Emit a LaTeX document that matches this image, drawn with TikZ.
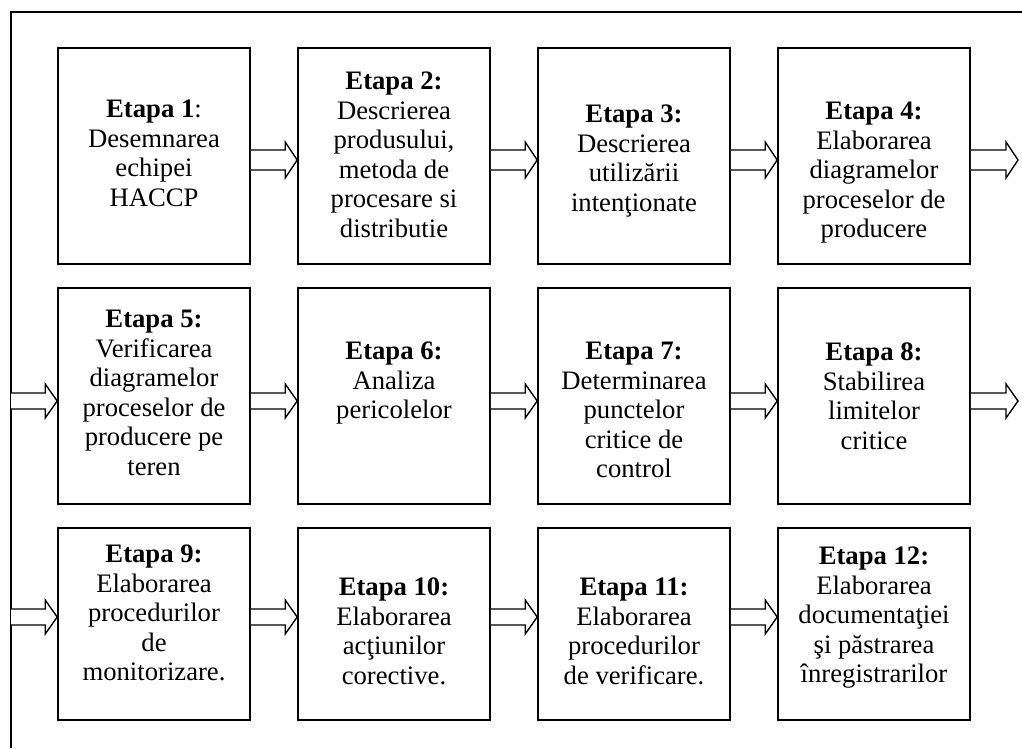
\documentclass[tikz,border=0pt]{standalone}
\usepackage{fontspec}
\setmainfont{Liberation Serif}
\usetikzlibrary{calc}
\tikzset{
  stepbox/.style={draw=black, line width=1.6pt, inner sep=0pt, minimum width=192pt},
  tallbox/.style={stepbox, minimum height=216pt},
  lowbox/.style={stepbox, minimum height=192pt},
  steptext/.style={anchor=north, inner sep=0pt, align=center,
    font=\fontsize{26.67}{29.5}\selectfont},
  frameline/.style={draw=black, line width=2.4pt},
  arrowline/.style={draw=black, line width=1.4pt, fill=white, line join=miter},
}
% #1 start, #2 end, #3 half shaft, #4 half head
\newcommand\blockarrow[4]{%
  \draw[arrowline] let \p1=(#1), \p2=(#2) in
    (\x1,{\y2+#3}) -- ({\x2-12pt},{\y2+#3}) -- ({\x2-12pt},{\y2+#4}) -- (\x2,\y2)
    -- ({\x2-12pt},{\y2-#4}) -- ({\x2-12pt},{\y2-#3}) -- (\x1,{\y2-#3});}
\begin{document}
\begin{tikzpicture}[x=1pt,y=-1pt]
\useasboundingbox (0,0) rectangle (1022,748);
% frame
\coordinate (f1) at (11,748);
\coordinate (f2) at (11,12);
\coordinate (f3) at (1022,12);
\draw[frameline] (f1) -- (f2) -- (f3);
% arrow rows
\coordinate (r1) at (0,160);
\coordinate (r2) at (0,401);
\coordinate (r3) at (0,617);
\coordinate (e1) at (1018,160);
\coordinate (e2) at (1018,401);
% boxes
\node[tallbox] (b1) at (154,156) {};
\node[tallbox] (b2) at (394,156) {};
\node[tallbox] (b3) at (634,156) {};
\node[tallbox] (b4) at (874,156) {};
\node[tallbox] (b5) at (154,396) {};
\node[tallbox] (b6) at (394,396) {};
\node[tallbox] (b7) at (634,396) {};
\node[tallbox] (b8) at (874,396) {};
\node[lowbox] (b9) at (154,624) {};
\node[lowbox] (b10) at (394,624) {};
\node[lowbox] (b11) at (634,624) {};
\node[lowbox] (b12) at (874,624) {};
% texts
\node[steptext] (t1) at (154,100) {\textbf{Etapa 1}:\\Desemnarea\\echipei\\HACCP};
\node[steptext] (t2) at (394,72) {\textbf{Etapa 2:}\\Descrierea\\produsului,\\metoda de\\procesare si\\distributie};
\node[steptext] (t3) at (634,105) {\textbf{Etapa 3:}\\Descrierea\\utilizării\\intenţionate};
\node[steptext] (t4) at (874,102) {\textbf{Etapa 4:}\\Elaborarea\\diagramelor\\proceselor de\\producere};
\node[steptext] (t5) at (154,310) {\textbf{Etapa 5:}\\Verificarea\\diagramelor\\proceselor de\\producere pe\\teren};
\node[steptext] (t6) at (394,342) {\textbf{Etapa 6:}\\Analiza\\pericolelor};
\node[steptext] (t7) at (634,342) {\textbf{Etapa 7:}\\Determinarea\\punctelor\\critice de\\control};
\node[steptext] (t8) at (874,343) {\textbf{Etapa 8:}\\Stabilirea\\limitelor\\critice};
\node[steptext] (t9) at (154,545) {\textbf{Etapa 9:}\\Elaborarea\\procedurilor\\de\\monitorizare.};
\node[steptext] (t10) at (394,578) {\textbf{Etapa 10:}\\Elaborarea\\acţiunilor\\corective.};
\node[steptext] (t11) at (634,578) {\textbf{Etapa 11:}\\Elaborarea\\procedurilor\\de verificare.};
\node[steptext] (t12) at (874,547) {\textbf{Etapa 12:}\\Elaborarea\\documentaţiei\\şi păstrarea\\înregistrarilor};
% arrows row 1
\blockarrow{b1.east |- r1}{b2.west |- r1}{10pt}{18pt}
\blockarrow{b2.east |- r1}{b3.west |- r1}{10pt}{18pt}
\blockarrow{b3.east |- r1}{b4.west |- r1}{10pt}{18pt}
\blockarrow{b4.east |- r1}{e1}{10pt}{18pt}
% arrows row 2
\blockarrow{f2 |- r2}{b5.west |- r2}{8pt}{17pt}
\blockarrow{b5.east |- r2}{b6.west |- r2}{8pt}{17pt}
\blockarrow{b6.east |- r2}{b7.west |- r2}{8pt}{17pt}
\blockarrow{b7.east |- r2}{b8.west |- r2}{8pt}{17pt}
\blockarrow{b8.east |- r2}{e2}{8pt}{17pt}
% arrows row 3
\blockarrow{f2 |- r3}{b9.west |- r3}{8pt}{17pt}
\blockarrow{b9.east |- r3}{b10.west |- r3}{8pt}{17pt}
\blockarrow{b10.east |- r3}{b11.west |- r3}{8pt}{17pt}
\blockarrow{b11.east |- r3}{b12.west |- r3}{8pt}{17pt}
\end{tikzpicture}
\end{document}
